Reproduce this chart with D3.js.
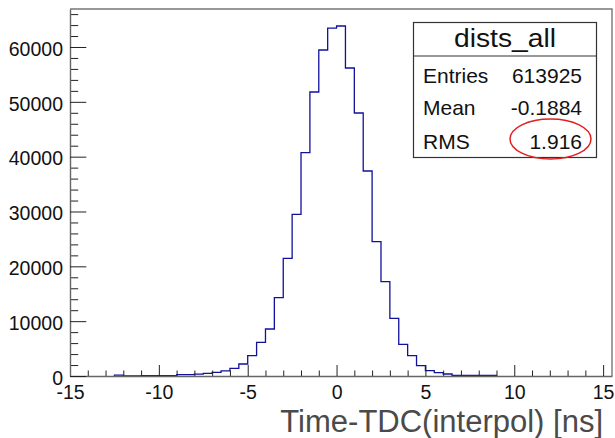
<!DOCTYPE html>
<html>
<head>
<meta charset="utf-8">
<script src="https://cdn.jsdelivr.net/npm/d3@7"></script>
<style>
  html, body { margin: 0; padding: 0; background: #fff; }
  svg { display: block; font-family: "Liberation Sans", Arial, Helvetica, sans-serif; }
</style>
</head>
<body>
<svg id="chart" width="615" height="438"></svg>
<script>
// ---- data ----
const binLow = [-12.5, -12, -11.5, -11, -10.5, -10, -9.5, -9, -8.5, -8, -7.5, -7, -6.5, -6, -5.5, -5,
  -4.5, -4, -3.5, -3, -2.5, -2, -1.5, -1, -0.5, 0, 0.5, 1, 1.5, 2, 2.5, 3, 3.5, 4, 4.5, 5, 5.5, 6,
  6.5, 7, 7.5, 8, 8.5];
const binWidth = 0.5;
const counts = [150, 0, 0, 80, 80, 80, 80, 250, 250, 330, 480, 670, 950, 1400, 2190, 3700,
  6150, 8570, 14290, 21460, 29480, 40720, 51790, 59450, 63460, 63830, 56170, 47960, 37390, 24500, 17200, 10520, 5780, 3700, 1880, 970, 600, 365,
  120, 100, 100, 100, 100];
const xRange = [-15, 15.5];
const yRange = [0, 66930];
const xMajorTicks = [-15, -10, -5, 0, 5, 10, 15];
const yMajorTicks = [0, 10000, 20000, 30000, 40000, 50000, 60000];
const xTitle = "Time-TDC(interpol) [ns]";
const statsTitle = "dists_all";
const statsNames = ["Entries", "Mean", "RMS"];
const statsValues = ["613925", "-0.1884", "1.916"];

// ---- layout ----
const svg = d3.select("#chart");
const L = 70, R = 612, T = 9, B = 376;
const x = d3.scaleLinear().domain(xRange).range([L, R]);
const y = d3.scaleLinear().domain(yRange).range([B, T]);
const font = '"Liberation Sans", Arial, Helvetica, sans-serif';
const fmt = d => String(d);

// frame (top and right)
svg.append("path")
  .attr("d", `M${L},${T}H${R}V${B}`)
  .attr("fill", "none").attr("stroke", "#777").attr("stroke-width", 1.4);

// histogram step outline
const pts = [];
binLow.forEach((lo, i) => {
  if (i === 0) pts.push([x(lo), y(0)]);
  pts.push([x(lo), y(counts[i])]);
  pts.push([x(lo + binWidth), y(counts[i])]);
});
pts.push([x(binLow[binLow.length - 1] + binWidth), y(0)]);
svg.append("path")
  .attr("d", d3.line()(pts))
  .attr("fill", "none").attr("stroke", "#11119c").attr("stroke-width", 1.3);

// x axis minor ticks
const xMinor = d3.range(xRange[0], 15.01, 1).filter(v => !xMajorTicks.includes(v));
svg.append("g").attr("transform", `translate(0,${B})`)
  .call(d3.axisBottom(x).tickValues(xMinor).tickSize(-5.5).tickSizeOuter(0).tickFormat(""))
  .call(g => g.select(".domain").remove())
  .call(g => g.selectAll("line").attr("stroke", "#222"));
// x axis major
const gx = svg.append("g").attr("transform", `translate(0,${B})`)
  .call(d3.axisBottom(x).tickValues(xMajorTicks).tickSize(-11).tickSizeOuter(0).tickPadding(9).tickFormat(fmt));
gx.select(".domain").attr("stroke", "#666").attr("stroke-width", 1.4);
gx.selectAll("line").attr("stroke", "#222");
gx.selectAll("text").attr("font-size", 19.5).attr("font-family", font).attr("fill", "#111");

// y axis minor ticks
const yMinor = d3.range(0, yRange[1], 2000).filter(v => !yMajorTicks.includes(v));
svg.append("g").attr("transform", `translate(${L},0)`)
  .call(d3.axisLeft(y).tickValues(yMinor).tickSize(-8.2).tickSizeOuter(0).tickFormat(""))
  .call(g => g.select(".domain").remove())
  .call(g => g.selectAll("line").attr("stroke", "#222"));
// y axis major
const gy = svg.append("g").attr("transform", `translate(${L},0)`)
  .call(d3.axisLeft(y).tickValues(yMajorTicks).tickSize(-16.3).tickSizeOuter(0).tickPadding(7).tickFormat(fmt));
gy.select(".domain").attr("stroke", "#666").attr("stroke-width", 1.4);
gy.selectAll("line").attr("stroke", "#222");
gy.selectAll("text").attr("font-size", 19.5).attr("font-family", font).attr("fill", "#111").attr("dy", "0.42em");

// x title
svg.append("text")
  .attr("x", 603).attr("y", 432)
  .attr("text-anchor", "end")
  .attr("font-size", 31).attr("font-family", font).attr("fill", "#4a4a4a")
  .text(xTitle);

// stats box
const bx = 413.5, bw = 183, by = 22.5, bh = 135, sep = 56;
const box = svg.append("g");
box.append("rect").attr("x", bx).attr("y", by).attr("width", bw).attr("height", bh)
  .attr("fill", "#fff").attr("stroke", "#333").attr("stroke-width", 1.2);
box.append("line").attr("x1", bx).attr("x2", bx + bw).attr("y1", sep).attr("y2", sep)
  .attr("stroke", "#333").attr("stroke-width", 1.2);
box.append("text").attr("x", bx + bw / 2).attr("y", 47).attr("text-anchor", "middle")
  .attr("font-size", 26).attr("font-family", font).attr("fill", "#111")
  .attr("textLength", 102).attr("lengthAdjust", "spacingAndGlyphs")
  .text(statsTitle);
const rowY = [82.5, 115, 149];
statsNames.forEach((n, i) => {
  box.append("text").attr("x", 423).attr("y", rowY[i])
    .attr("font-size", 21).attr("font-family", font).attr("fill", "#111").text(n);
  box.append("text").attr("x", 582).attr("y", rowY[i]).attr("text-anchor", "end")
    .attr("font-size", 21).attr("font-family", font).attr("fill", "#111").text(statsValues[i]);
});
// red ellipse around RMS value
box.append("ellipse").attr("cx", 550.5).attr("cy", 139).attr("rx", 40.5).attr("ry", 20)
  .attr("fill", "none").attr("stroke", "#e02020").attr("stroke-width", 1.5);
</script>
</body>
</html>
